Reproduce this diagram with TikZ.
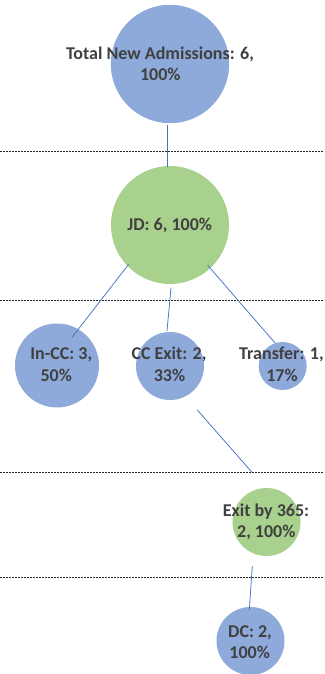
\documentclass[tikz,border=0pt]{standalone}
\usepackage{fontspec}
\setmainfont{Carlito}
\usetikzlibrary{calc}
\definecolor{bubblue}{HTML}{8EAADB}
\definecolor{bubgreen}{HTML}{A9D18E}
\definecolor{txtgray}{HTML}{404040}
\definecolor{linkblue}{HTML}{4472C4}
\begin{document}
\begin{tikzpicture}[x=1pt,y=1pt,
  bubble/.style={circle,inner sep=0pt,minimum size=#1},
  bblue/.style={bubble=#1,fill=bubblue},
  bgreen/.style={bubble=#1,fill=bubgreen},
  lbl/.style={anchor=base,inner sep=0pt,text=txtgray,font=\bfseries\fontsize{18}{21.7}\selectfont},
  link/.style={draw=linkblue,line width=0.75pt},
  sep/.style={draw=black!85,line width=0.6pt,dash pattern=on 2pt off 1pt}]
\useasboundingbox (0,0) rectangle (324,674);
% separators
\coordinate (s1l) at (0,523);   \coordinate (s1r) at (324,523);
\coordinate (s2l) at (0,374);   \coordinate (s2r) at (324,374);
\coordinate (s3l) at (0,202);   \coordinate (s3r) at (324,202);
\coordinate (s4l) at (0,96.3);  \coordinate (s4r) at (324,96.3);
\draw[sep] (s1l) -- (s1r);
\draw[sep] (s2l) -- (s2r);
\draw[sep] (s3l) -- (s3r);
\draw[sep] (s4l) -- (s4r);
% bubbles
\node[bblue=118.4pt]  (total)  at (170,610)   {};
\node[bgreen=118pt]   (jd)     at (170,449)   {};
\node[bblue=84pt]     (incc)   at (57,308.5)  {};
\node[bblue=68pt]     (ccexit) at (170,308)   {};
\node[bblue=48pt]     (transf) at (282.7,308) {};
\node[bgreen=68pt]    (exit)   at (266.5,152) {};
\node[bblue=68pt]     (dc)     at (250.5,33)  {};
% connectors
\draw[link] ($(total.center)+(-3,-61)$) -- ($(jd.center)+(-3,58)$);
\draw[link] ($(jd.center)+(-41.3,-39.3)$) -- ($(incc.center)+(15,28.2)$);
\draw[link] ($(jd.center)+(1,-62.7)$) -- ($(ccexit.center)+(-3,35)$);
\draw[link] ($(jd.center)+(37.7,-40.3)$) -- ($(transf.center)+(-7.4,22.7)$);
\draw[link] ($(ccexit.center)+(27.3,-44)$) -- ($(exit.center)+(-14.2,49.3)$);
\draw[link] ($(exit.center)+(-14.2,-44)$) -- ($(dc.center)+(-1.2,31)$);
% labels
\node[lbl] (t1a) at (160,614.7) {Total New Admissions: 6,};
\node[lbl] (t1b) at (160.3,593) {100\%};
\node[lbl] (t2a) at (169.7,443) {JD: 6, 100\%};
\node[lbl] (t3a) at (61.3,314) {In-CC: 3,};
\node[lbl] (t3b) at (56.3,292) {50\%};
\node[lbl] (t4a) at (169,314) {CC Exit: 2,};
\node[lbl] (t4b) at (169.5,292) {33\%};
\node[lbl] (t5a) at (281.5,314) {Transfer: 1,};
\node[lbl] (t5b) at (282,292) {17\%};
\node[lbl] (t6a) at (266,157.3) {Exit by 365:};
\node[lbl] (t6b) at (266.3,136) {2, 100\%};
\node[lbl] (t7a) at (250,36.7) {DC: 2,};
\node[lbl] (t7b) at (249.7,15) {100\%};
\end{tikzpicture}
\end{document}
